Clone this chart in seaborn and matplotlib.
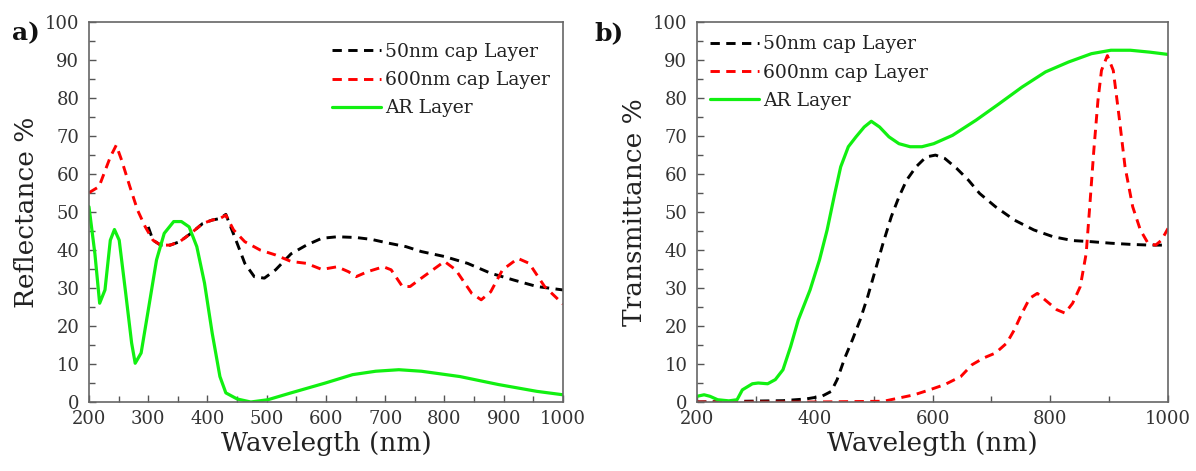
import numpy as np
import pandas as pd
import matplotlib
matplotlib.use("Agg")
import matplotlib.pyplot as plt
from matplotlib.ticker import MultipleLocator
import seaborn as sns

# ---- Reflectance (panel a) ----
refl_50_wl = [300, 308, 321, 337, 353, 372, 392, 408, 421, 431, 450, 463, 479, 496, 515,
              541, 567, 593, 619, 651, 677, 703, 735, 761, 800, 839, 878, 917, 956, 1000]
refl_50 = [46.1, 42.6, 41.3, 41.3, 42.2, 44.4, 47.0, 47.9, 48.3, 49.4, 41.8, 36.5, 33.0, 32.6, 34.8,
           39.0, 41.3, 43.1, 43.5, 43.3, 42.8, 41.9, 40.9, 39.6, 38.3, 36.5, 33.9, 32.1, 30.4, 29.5]

refl_600_wl = [200, 217, 236, 246, 255, 269, 282, 295, 308, 321, 337, 353, 372, 392, 408, 421,
               431, 444, 463, 489, 515, 541, 567, 593, 619, 638, 651, 670, 697, 710, 729, 742,
               761, 800, 819, 846, 862, 878, 898, 924, 943, 969, 1000]
refl_600 = [55.1, 56.7, 64.5, 67.6, 63.7, 56.7, 50.5, 46.1, 42.6, 41.3, 41.3, 42.2, 44.4, 47.0, 47.9, 48.3,
            49.2, 45.3, 42.2, 40.0, 38.7, 37.0, 36.5, 34.9, 35.6, 34.3, 33.0, 34.3, 35.6, 34.8, 30.4, 30.4,
            32.6, 37.0, 34.8, 28.6, 26.9, 29.0, 34.8, 37.8, 36.5, 30.4, 25.8]

refl_ar_wl = [200, 210, 218, 227, 236, 243, 251, 262, 272, 278, 288, 301, 314, 327, 343, 356,
              369, 382, 395, 408, 421, 431, 450, 473, 502, 541, 599, 645, 684, 723, 761, 826,
              891, 956, 1000]
refl_ar = [51.4, 39.0, 26.0, 29.5, 42.6, 45.4, 42.6, 28.6, 15.5, 10.2, 12.9, 25.1, 37.4, 44.4, 47.5, 47.5,
           46.1, 40.9, 31.3, 18.1, 6.7, 2.4, 0.8, 0.0, 0.6, 2.4, 5.0, 7.2, 8.1, 8.5, 8.1, 6.7,
           4.6, 2.8, 1.9]

# ---- Transmittance (panel b) ----
trans_50_wl = [200, 281, 346, 385, 412, 428, 438, 451, 464, 477, 490, 503, 516, 530, 543, 556,
               572, 589, 605, 621, 641, 661, 680, 707, 739, 772, 805, 838, 870, 903, 936, 969, 1000]
trans_50 = [0.0, 0.2, 0.35, 0.8, 1.5, 2.8, 5.9, 11.6, 16.4, 21.6, 27.8, 34.8, 41.8, 48.8, 54.0, 58.4,
            61.9, 64.5, 65.0, 64.1, 61.5, 58.4, 54.9, 51.4, 47.9, 45.3, 43.5, 42.5, 42.2, 41.8, 41.5, 41.3, 41.3]

trans_600_wl = [200, 400, 517, 543, 569, 595, 621, 648, 667, 687, 707, 726, 739, 752, 765, 778,
                791, 811, 825, 838, 851, 861, 867, 874, 881, 887, 897, 907, 917, 927, 940, 953,
                966, 979, 989, 1000]
trans_600 = [0.0, 0.0, 0.2, 1.05, 1.9, 3.2, 4.6, 6.7, 9.8, 11.6, 12.9, 15.5, 19.0, 23.4, 27.3, 28.6,
             26.9, 24.3, 23.4, 26.0, 30.4, 39.1, 51.4, 66.3, 79.4, 87.3, 91.2, 87.3, 75.0, 61.9, 51.4, 45.3,
             41.8, 41.3, 42.6, 45.7]

trans_ar_wl = [200, 212, 222, 235, 254, 268, 277, 294, 304, 320, 333, 346, 359, 372, 392, 408,
               421, 434, 444, 457, 470, 484, 496, 510, 526, 543, 562, 582, 602, 634, 674, 713,
               752, 792, 831, 870, 903, 936, 969, 1000]
trans_ar = [1.5, 1.9, 1.5, 0.6, 0.3, 0.6, 3.2, 4.8, 5.0, 4.8, 5.9, 8.5, 14.6, 21.6, 29.5, 37.4,
            45.3, 54.9, 61.9, 67.2, 69.8, 72.4, 73.9, 72.4, 69.8, 68.0, 67.2, 67.2, 68.0, 70.2, 74.2, 78.5,
            82.9, 86.9, 89.5, 91.7, 92.6, 92.6, 92.1, 91.5]

series_labels = ["50nm cap Layer", "600nm cap Layer", "AR Layer"]
series_colors = ["#000000", "#ff0000", "#11f011"]

sns.set_style("ticks")
plt.rcParams["font.family"] = ["DejaVu Serif"]
plt.rcParams["text.color"] = "#222222"

fig = plt.figure(figsize=(11.96, 4.71), dpi=100)
ax_a = fig.add_axes([0.0744, 0.1465, 0.3963, 0.8065])
ax_b = fig.add_axes([0.5828, 0.1465, 0.3938, 0.8065])

dash = (0, (3.2, 2.2))


def draw_panel(ax, data, ylabel, xmajor, xminor, legend_loc, legend_anchor):
    for (wl, vals), lab, col in zip(data, series_labels, series_colors):
        df = pd.DataFrame({"wl": wl, "val": vals})
        ls = "-" if lab == "AR Layer" else dash
        lw = 2.3 if lab == "AR Layer" else 2.1
        sns.lineplot(data=df, x="wl", y="val", ax=ax, color=col, linestyle=ls,
                     linewidth=lw, label=lab, sort=False)
    ax.set_xlim(200, 1000)
    ax.set_ylim(0, 100)
    ax.xaxis.set_major_locator(MultipleLocator(xmajor))
    ax.xaxis.set_minor_locator(MultipleLocator(xminor))
    ax.yaxis.set_major_locator(MultipleLocator(10))
    ax.yaxis.set_minor_locator(MultipleLocator(5))
    ax.tick_params(axis="both", which="both", direction="in", top=False, right=False,
                   colors="#555555", labelcolor="#333333", labelsize=13)
    ax.tick_params(which="major", length=5, width=1.0)
    ax.tick_params(which="minor", length=4, width=1.0)
    ax.tick_params(axis="x", which="major", pad=6)
    ax.tick_params(axis="y", which="major", pad=7)
    for sp in ax.spines.values():
        sp.set_color("#666666")
        sp.set_linewidth(1.2)
    ax.set_xlabel("Wavelegth (nm)", fontsize=19, color="#222222", labelpad=2)
    ax.set_ylabel(ylabel, fontsize=19, color="#222222", labelpad=4)
    leg = ax.legend(loc=legend_loc, bbox_to_anchor=legend_anchor, frameon=False,
                    fontsize=13.5, handlelength=2.6, handletextpad=0.2,
                    labelspacing=0.55, borderaxespad=0.3)
    for t in leg.get_texts():
        t.set_color("#222222")


draw_panel(ax_a,
           [(refl_50_wl, refl_50), (refl_600_wl, refl_600), (refl_ar_wl, refl_ar)],
           "Reflectance %", 100, 50, "upper right", (1.0, 0.98))
draw_panel(ax_b,
           [(trans_50_wl, trans_50), (trans_600_wl, trans_600), (trans_ar_wl, trans_ar)],
           "Transmittance %", 200, 100, "upper left", (0.0, 1.0))

fig.text(0.010, 0.915, "a)", fontsize=18, fontweight="bold", color="#111111")
fig.text(0.497, 0.915, "b)", fontsize=18, fontweight="bold", color="#111111")

fig.savefig("out.png", dpi=100)
